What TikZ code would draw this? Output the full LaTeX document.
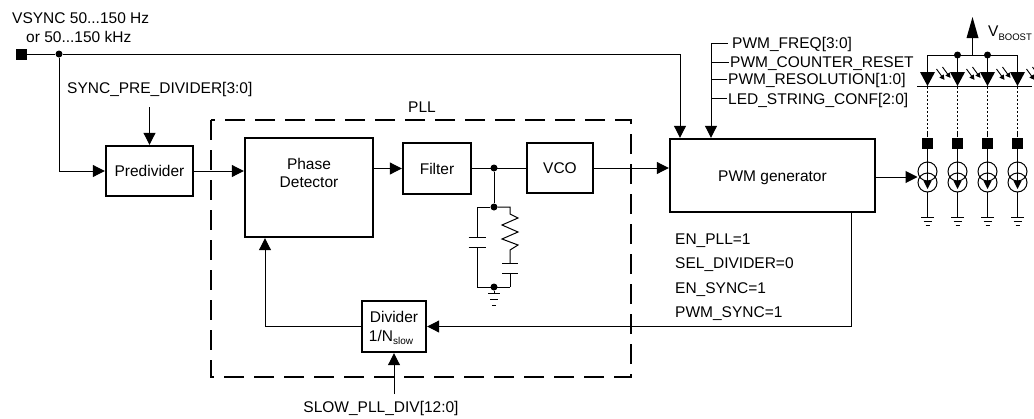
\documentclass[tikz,border=0pt]{standalone}
\usepackage{fontspec}
\setmainfont{Liberation Sans}
\usetikzlibrary{arrows.meta}
\begin{document}
\begin{tikzpicture}[x=1pt,y=-1pt,
  lab/.style={inner sep=0pt, font=\fontsize{15.5}{17}\selectfont, text height=11.1pt, text depth=0pt},
  blk/.style={draw, line width=2.4pt, lab},
  thin/.style={line width=1pt},
  arr/.style={thin, -{Triangle[length=12pt,width=12pt]}},
  ledarr/.style={line width=0.9pt, -{Triangle[length=5pt,width=5pt]}},
  dot/.style={circle, fill, inner sep=0pt, minimum size=7pt},
  term/.style={rectangle, fill, inner sep=0pt, minimum size=11pt},
  pllbox/.style={line width=2pt, dash pattern=on 20pt off 10pt},
  dots/.style={line width=1pt, dash pattern=on 2pt off 2pt},
]
\useasboundingbox (0,0) rectangle (1034,418);

% input
\node[lab,anchor=west] (vs1) at (12,18) {VSYNC 50...150 Hz};
\node[lab,anchor=west] (vs2) at (26,36.5) {or 50...150 kHz};
\node[term] (sq) at (21.5,54) {};
\node[dot] (d1) at (59,54) {};
\coordinate (c1) at (680,54);
\node[lab,anchor=west] (spd) at (67,87.5) {SYNC\_PRE\_DIVIDER[3:0]};
\coordinate (spdb) at (149.5,107);

% PLL frame
\draw[pllbox] (211,120) rectangle (631,377);
\node[lab,anchor=west] (pll) at (408,107) {PLL};

% blocks
\node[blk, minimum width=87pt, minimum height=50pt] (pre) at (149.5,171) {Predivider};
\node[blk, minimum width=128pt, minimum height=99pt] (pd) at (309,187.5) {};
\node[lab] (pdt1) at (309,164) {Phase};
\node[lab] (pdt2) at (309,182) {Detector};
\node[blk, minimum width=68pt, minimum height=51pt] (filt) at (437,168.5) {Filter};
\node[blk, minimum width=66pt, minimum height=50pt] (vco) at (560,168) {VCO};
\node[blk, minimum width=205pt, minimum height=73pt] (pwm) at (772.5,175.5) {PWM generator};
\node[blk, minimum width=64pt, minimum height=51pt] (div) at (394,326.5) {};
\node[lab] (divt1) at (394,317) {Divider};
\node[lab] (divt2) at (391,336) {1/N\raisebox{-3pt}{\fontsize{10}{10}\selectfont slow}};

% main connectors
\draw[thin] (sq) -- (d1) -- (c1);
\draw[arr] (c1) -- (c1 |- pwm.north);
\draw[arr] (d1) |- (pre.west);
\draw[arr] (spdb) -- (pre.north);
\draw[arr] (pre.east) -- (pre.east -| pd.west);
\draw[arr] (pd.east |- filt.west) -- (filt.west);
\node[dot] (j1) at (494,168) {};
\draw[thin] (filt.east |- j1) -- (vco.west |- j1);
\draw[arr] (vco.east) -- (vco.east -| pwm.west);

% loop filter
\node[dot] (j2) at (494,207) {};
\node[dot] (j3) at (494,287) {};
\draw[thin] (j1) -- (j2);
\draw[thin] (j2) -- (477,207) -- (477,237);
\draw[thin] (468.5,237) -- (485.5,237);
\draw[thin] (468.5,247) -- (485.5,247);
\draw[thin] (477,247) -- (477,287) -- (510,287);
\draw[thin] (j2) -- (510,207) -- (510,214) -- (518,218) -- (502,225) -- (518,232) -- (502,239) -- (518,245) -- (510,250) -- (510,263);
\draw[thin] (502,263) -- (518,263);
\draw[thin] (502,273) -- (518,273);
\draw[thin] (510,273) -- (510,287);
\draw[thin] (j3) -- (494,293);
\draw[thin] (488,293) -- (500,293);
\draw[thin] (490,299) -- (498,299);
\draw[thin] (492,305) -- (496,305);

% feedback
\coordinate (fbx) at (265,326.5);
\draw[arr] (div.west) -- (fbx) -- (fbx |- pd.south);
\coordinate (po) at (851,0);
\draw[arr] (po |- pwm.south) |- (div.east);
\node[lab] (slow) at (381,407) {SLOW\_PLL\_DIV[12:0]};
\coordinate (sl) at (394,394);
\draw[arr] (sl) -- (div.south);

% registers
\coordinate (rt) at (711,43);
\draw[arr] (rt) -- (rt |- pwm.north);
\draw[thin] (711,43) -- (728,43);
\draw[thin] (711,62) -- (729,62);
\draw[thin] (711,79) -- (727,79);
\draw[thin] (711,98) -- (727,98);
\node[lab,anchor=west] (r1) at (732,42.5) {PWM\_FREQ[3:0]};
\node[lab,anchor=west] (r2) at (730,61.5) {PWM\_COUNTER\_RESET};
\node[lab,anchor=west] (r3) at (728,79) {PWM\_RESOLUTION[1:0]};
\node[lab,anchor=west] (r4) at (728,98.5) {LED\_STRING\_CONF[2:0]};

% settings
\node[lab,anchor=west] (s1) at (675,239) {EN\_PLL=1};
\node[lab,anchor=west] (s2) at (675,263) {SEL\_DIVIDER=0};
\node[lab,anchor=west] (s3) at (675,288) {EN\_SYNC=1};
\node[lab,anchor=west] (s4) at (675,312) {PWM\_SYNC=1};

% LED strings
\coordinate (cs1) at (917.5,177);
\draw[arr] (pwm.east |- cs1) -- (cs1);
\draw[thin] (927.5,72) -- (927.5,55) -- (1017.5,55) -- (1017.5,72);
\node[dot] (vd1) at (957.5,55) {};
\node[dot] (vd2) at (987.5,55) {};
\coordinate (vb) at (972.5,55);
\draw[thin] (vb) -- (972.5,38);
\fill (966.5,38) -- (978.5,38) -- (972.5,17) -- cycle;
\node[lab,anchor=west] (vbt) at (988,31) {V\raisebox{-4pt}{\fontsize{9.5}{10}\selectfont BOOST}};
\draw[thin] (917,86) -- (1032,86);
\foreach \x in {927.5,957.5,987.5,1017.5} {
  \draw[thin] (\x,55) -- (\x,72);
  \fill (\x-7.5,72) -- (\x+7.5,72) -- (\x,86) -- cycle;
  \draw[ledarr] (\x+9,69) -- (\x+17,80);
  \draw[ledarr] (\x+15,67) -- (\x+23,78);
  \draw[dots] (\x,87) -- (\x,131);
  \draw[thin] (\x,131) -- (\x,137);
  \fill (\x-5.5,137.5) rectangle (\x+5.5,148.5);
  \draw[thin] (\x,148) -- (\x,162);
  \draw[thin] (\x,171.5) circle (9.5);
  \draw[thin] (\x,182.5) circle (9.5);
  \draw[thin] (\x,162) -- (\x,181);
  \fill (\x-4,181) -- (\x+4,181) -- (\x,189) -- cycle;
  \draw[thin] (\x,192) -- (\x,217);
  \draw[thin] (\x-6.5,217) -- (\x+6.5,217);
  \draw[thin] (\x-4,221) -- (\x+4,221);
  \draw[thin] (\x-2,225) -- (\x+2,225);
}
\end{tikzpicture}
\end{document}
